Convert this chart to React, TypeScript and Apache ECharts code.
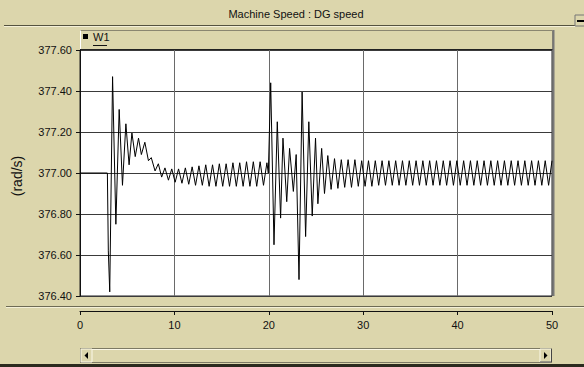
import React, { useEffect, useRef } from "react";
import * as echarts from "echarts";

// Simulation time (s) and machine speed (rad/s)
const timeS: number[] = [
  0, 2.9, 3.0, 3.15, 3.45, 3.8, 4.15, 4.5, 4.86, 5.2, 5.5, 5.85, 6.2, 6.5, 6.87,
  7.25, 7.55, 7.95, 8.3, 8.65, 9.0, 9.37, 9.72, 10.08, 10.44, 10.8, 11.16, 11.52,
  11.88, 12.24, 12.6, 12.96, 13.32, 13.68, 14.04, 14.4, 14.76, 15.12, 15.48, 15.84,
  16.2, 16.56, 16.92, 17.28, 17.64, 18.0, 18.36, 18.72, 19.08, 19.44, 19.8, 19.95,
  20.2, 20.55, 20.9, 21.25, 21.5, 21.9, 22.2, 22.6, 22.9, 23.2, 23.53, 23.9, 24.24,
  24.6, 24.95, 25.2, 25.6, 25.9, 26.25,
  26.6, 26.96, 27.32, 27.68, 28.04, 28.4, 28.76, 29.12, 29.48, 29.84, 30.2, 30.56,
  30.92, 31.28, 31.64, 32.0, 32.36, 32.72, 33.08, 33.44, 33.8, 34.16, 34.52, 34.88,
  35.24, 35.6, 35.96, 36.32, 36.68, 37.04, 37.4, 37.76, 38.12, 38.48, 38.84, 39.2,
  39.56, 39.92, 40.28, 40.64, 41.0, 41.36, 41.72, 42.08, 42.44, 42.8, 43.16, 43.52,
  43.88, 44.24, 44.6, 44.96, 45.32, 45.68, 46.04, 46.4, 46.76, 47.12, 47.48, 47.84,
  48.2, 48.56, 48.92, 49.28, 49.64, 50.0,
];
const speed: number[] = [
  377.0, 377.0, 376.62, 376.42, 377.47, 376.75, 377.31, 376.94, 377.24, 377.04, 377.195,
  377.08, 377.17, 377.09, 377.15,
  377.06, 377.075, 377.01, 377.045, 376.98, 377.025, 376.965, 377.02, 376.955, 377.02,
  376.95, 377.025, 376.945, 377.03, 376.94, 377.035, 376.94, 377.04, 376.935, 377.04,
  376.935, 377.045, 376.935, 377.045, 376.935, 377.05, 376.935, 377.05, 376.935,
  377.055, 376.935, 377.055, 376.935, 377.055, 376.94, 377.05, 377.0,
  377.44, 376.65, 377.25, 376.78, 377.17, 376.86, 377.12, 376.91, 377.09, 376.48,
  377.395, 376.69, 377.25, 376.79, 377.17, 376.85, 377.12, 376.9, 377.085,
  376.92, 377.07, 376.925, 377.065, 376.93, 377.065, 376.93, 377.065, 376.935, 377.06,
  376.935, 377.06, 376.935, 377.06, 376.94, 377.06, 376.94, 377.06, 376.94, 377.06,
  376.94, 377.06, 376.94, 377.06, 376.94, 377.06, 376.94, 377.06, 376.94, 377.06,
  376.94, 377.06, 376.94, 377.06, 376.94, 377.06, 376.94, 377.06, 376.94, 377.06,
  376.94, 377.06, 376.94, 377.06, 376.94, 377.06, 376.94, 377.06, 376.94, 377.06,
  376.94, 377.06, 376.94, 377.06, 376.94, 377.06, 376.94, 377.06, 376.94, 377.06,
  376.94, 377.06, 376.94, 377.06, 376.94, 377.06,
];

const chartTitle = "Machine Speed : DG speed";
const seriesName = "W1";
const yUnit = "(rad/s)";
const xTicks = { min: 0, max: 50, interval: 10 };
const yTicks = { min: 376.4, max: 377.6, interval: 0.2 };

const BEIGE = "#DCD6AC";
const FONT = "'Liberation Sans', Arial, sans-serif";

export default function App() {
  const ref = useRef<HTMLDivElement>(null);
  useEffect(() => {
    if (!ref.current) return;
    const chart = echarts.init(ref.current, undefined, { renderer: "svg" });
    const data = timeS.map((t, i) => [t, speed[i]]);
    chart.setOption({
      animation: false,
      backgroundColor: BEIGE,
      textStyle: { fontFamily: FONT },
      grid: {
        left: 80,
        top: 50,
        width: 472,
        height: 246,
        show: true,
        backgroundColor: "#ffffff",
        borderColor: "#222",
        borderWidth: 1,
      },
      xAxis: {
        type: "value",
        min: xTicks.min,
        max: xTicks.max,
        interval: xTicks.interval,
        offset: 15,
        axisLine: { show: true, lineStyle: { color: "#111", width: 1 } },
        axisTick: { show: true, length: 4, lineStyle: { color: "#111" } },
        axisLabel: { color: "#111", fontSize: 11, margin: 8, fontFamily: FONT },
        splitLine: { show: true, lineStyle: { color: "#6a6a6a", width: 1 } },
      },
      yAxis: {
        type: "value",
        min: yTicks.min,
        max: yTicks.max,
        interval: yTicks.interval,
        axisLine: { show: true, lineStyle: { color: "#111" } },
        axisTick: { show: true, length: 4, lineStyle: { color: "#111" } },
        axisLabel: {
          color: "#111",
          fontSize: 11,
          margin: 8,
          fontFamily: FONT,
          formatter: (v: number) => v.toFixed(2),
        },
        splitLine: { show: true, lineStyle: { color: "#3a3a3a", width: 1 } },
      },
      series: [
        {
          name: seriesName,
          type: "line",
          data,
          showSymbol: false,
          symbol: "none",
          lineStyle: { color: "#000", width: 1 },
          z: 5,
        },
      ],
      graphic: [
        // title
        {
          type: "text",
          x: 296,
          y: 14,
          style: {
            text: chartTitle,
            align: "center",
            verticalAlign: "middle",
            fill: "#111",
            font: `11px ${FONT}`,
          },
        },
        { type: "line", shape: { x1: 4, y1: 25.5, x2: 576, y2: 25.5 }, style: { stroke: "#55533f", lineWidth: 1 } },
        { type: "line", shape: { x1: 4, y1: 26.5, x2: 576, y2: 26.5 }, style: { stroke: "#f4f0d8", lineWidth: 1 } },
        // minimize button at right
        { type: "rect", shape: { x: 575, y: 15, width: 12, height: 11 }, style: { fill: BEIGE, stroke: "#777", lineWidth: 1 } },
        { type: "line", shape: { x1: 577, y1: 21, x2: 584, y2: 21 }, style: { stroke: "#000", lineWidth: 2 } },
        // legend strip
        { type: "rect", shape: { x: 80.5, y: 30.5, width: 472, height: 19 }, style: { fill: BEIGE, stroke: "#8a8670", lineWidth: 1 } },
        { type: "line", shape: { x1: 80.5, y1: 30.5, x2: 80.5, y2: 50 }, style: { stroke: "#ffffff", lineWidth: 1 } },
        { type: "rect", shape: { x: 83, y: 34, width: 5, height: 5 }, style: { fill: "#000" } },
        {
          type: "text",
          x: 93,
          y: 37,
          style: { text: seriesName, verticalAlign: "middle", fill: "#111", font: `11px ${FONT}` },
        },
        { type: "line", shape: { x1: 93, y1: 45.5, x2: 107, y2: 45.5 }, style: { stroke: "#111", lineWidth: 1 } },
        { type: "line", shape: { x1: 80, y1: 50, x2: 553, y2: 50 }, style: { stroke: "#222", lineWidth: 2 } },
        // right plot edge
        { type: "line", shape: { x1: 553.5, y1: 30, x2: 553.5, y2: 296 }, style: { stroke: "#777", lineWidth: 2 } },
        // y unit
        {
          type: "text",
          x: 17,
          y: 176,
          rotation: Math.PI / 2,
          style: { text: yUnit, align: "center", verticalAlign: "middle", fill: "#111", font: `14px ${FONT}` },
        },
        // separator above x axis
        { type: "line", shape: { x1: 6, y1: 306.5, x2: 584, y2: 306.5 }, style: { stroke: "#6e6b55", lineWidth: 1 } },
        { type: "line", shape: { x1: 6, y1: 307.5, x2: 584, y2: 307.5 }, style: { stroke: "#f4f0d8", lineWidth: 1 } },
        // scrollbar
        { type: "rect", shape: { x: 80.5, y: 348.5, width: 471, height: 14 }, style: { fill: BEIGE, stroke: "#7d7a64", lineWidth: 1 } },
        { type: "line", shape: { x1: 81, y1: 349.5, x2: 551, y2: 349.5 }, style: { stroke: "#fbf8e8", lineWidth: 1 } },
        { type: "rect", shape: { x: 81, y: 349, width: 11, height: 13 }, style: { fill: BEIGE, stroke: "#fbf8e8", lineWidth: 1 } },
        { type: "polygon", shape: { points: [[88, 352], [88, 359], [84.5, 355.5]] }, style: { fill: "#000" } },
        { type: "rect", shape: { x: 540, y: 349, width: 11, height: 13 }, style: { fill: BEIGE, stroke: "#fbf8e8", lineWidth: 1 } },
        { type: "line", shape: { x1: 540, y1: 362, x2: 551.5, y2: 362 }, style: { stroke: "#444", lineWidth: 1 } },
        { type: "line", shape: { x1: 551.5, y1: 349, x2: 551.5, y2: 362 }, style: { stroke: "#444", lineWidth: 1 } },
        { type: "polygon", shape: { points: [[544, 352], [544, 359], [547.5, 355.5]] }, style: { fill: "#000" } },
        // bottom border
        { type: "rect", shape: { x: 0, y: 364, width: 584, height: 3 }, style: { fill: "#2b2a1e" } },
      ],
    });
    return () => chart.dispose();
  }, []);
  return (
    <div
      ref={ref}
      style={{ position: "fixed", left: 0, top: 0, width: 584, height: 367 }}
    />
  );
}
